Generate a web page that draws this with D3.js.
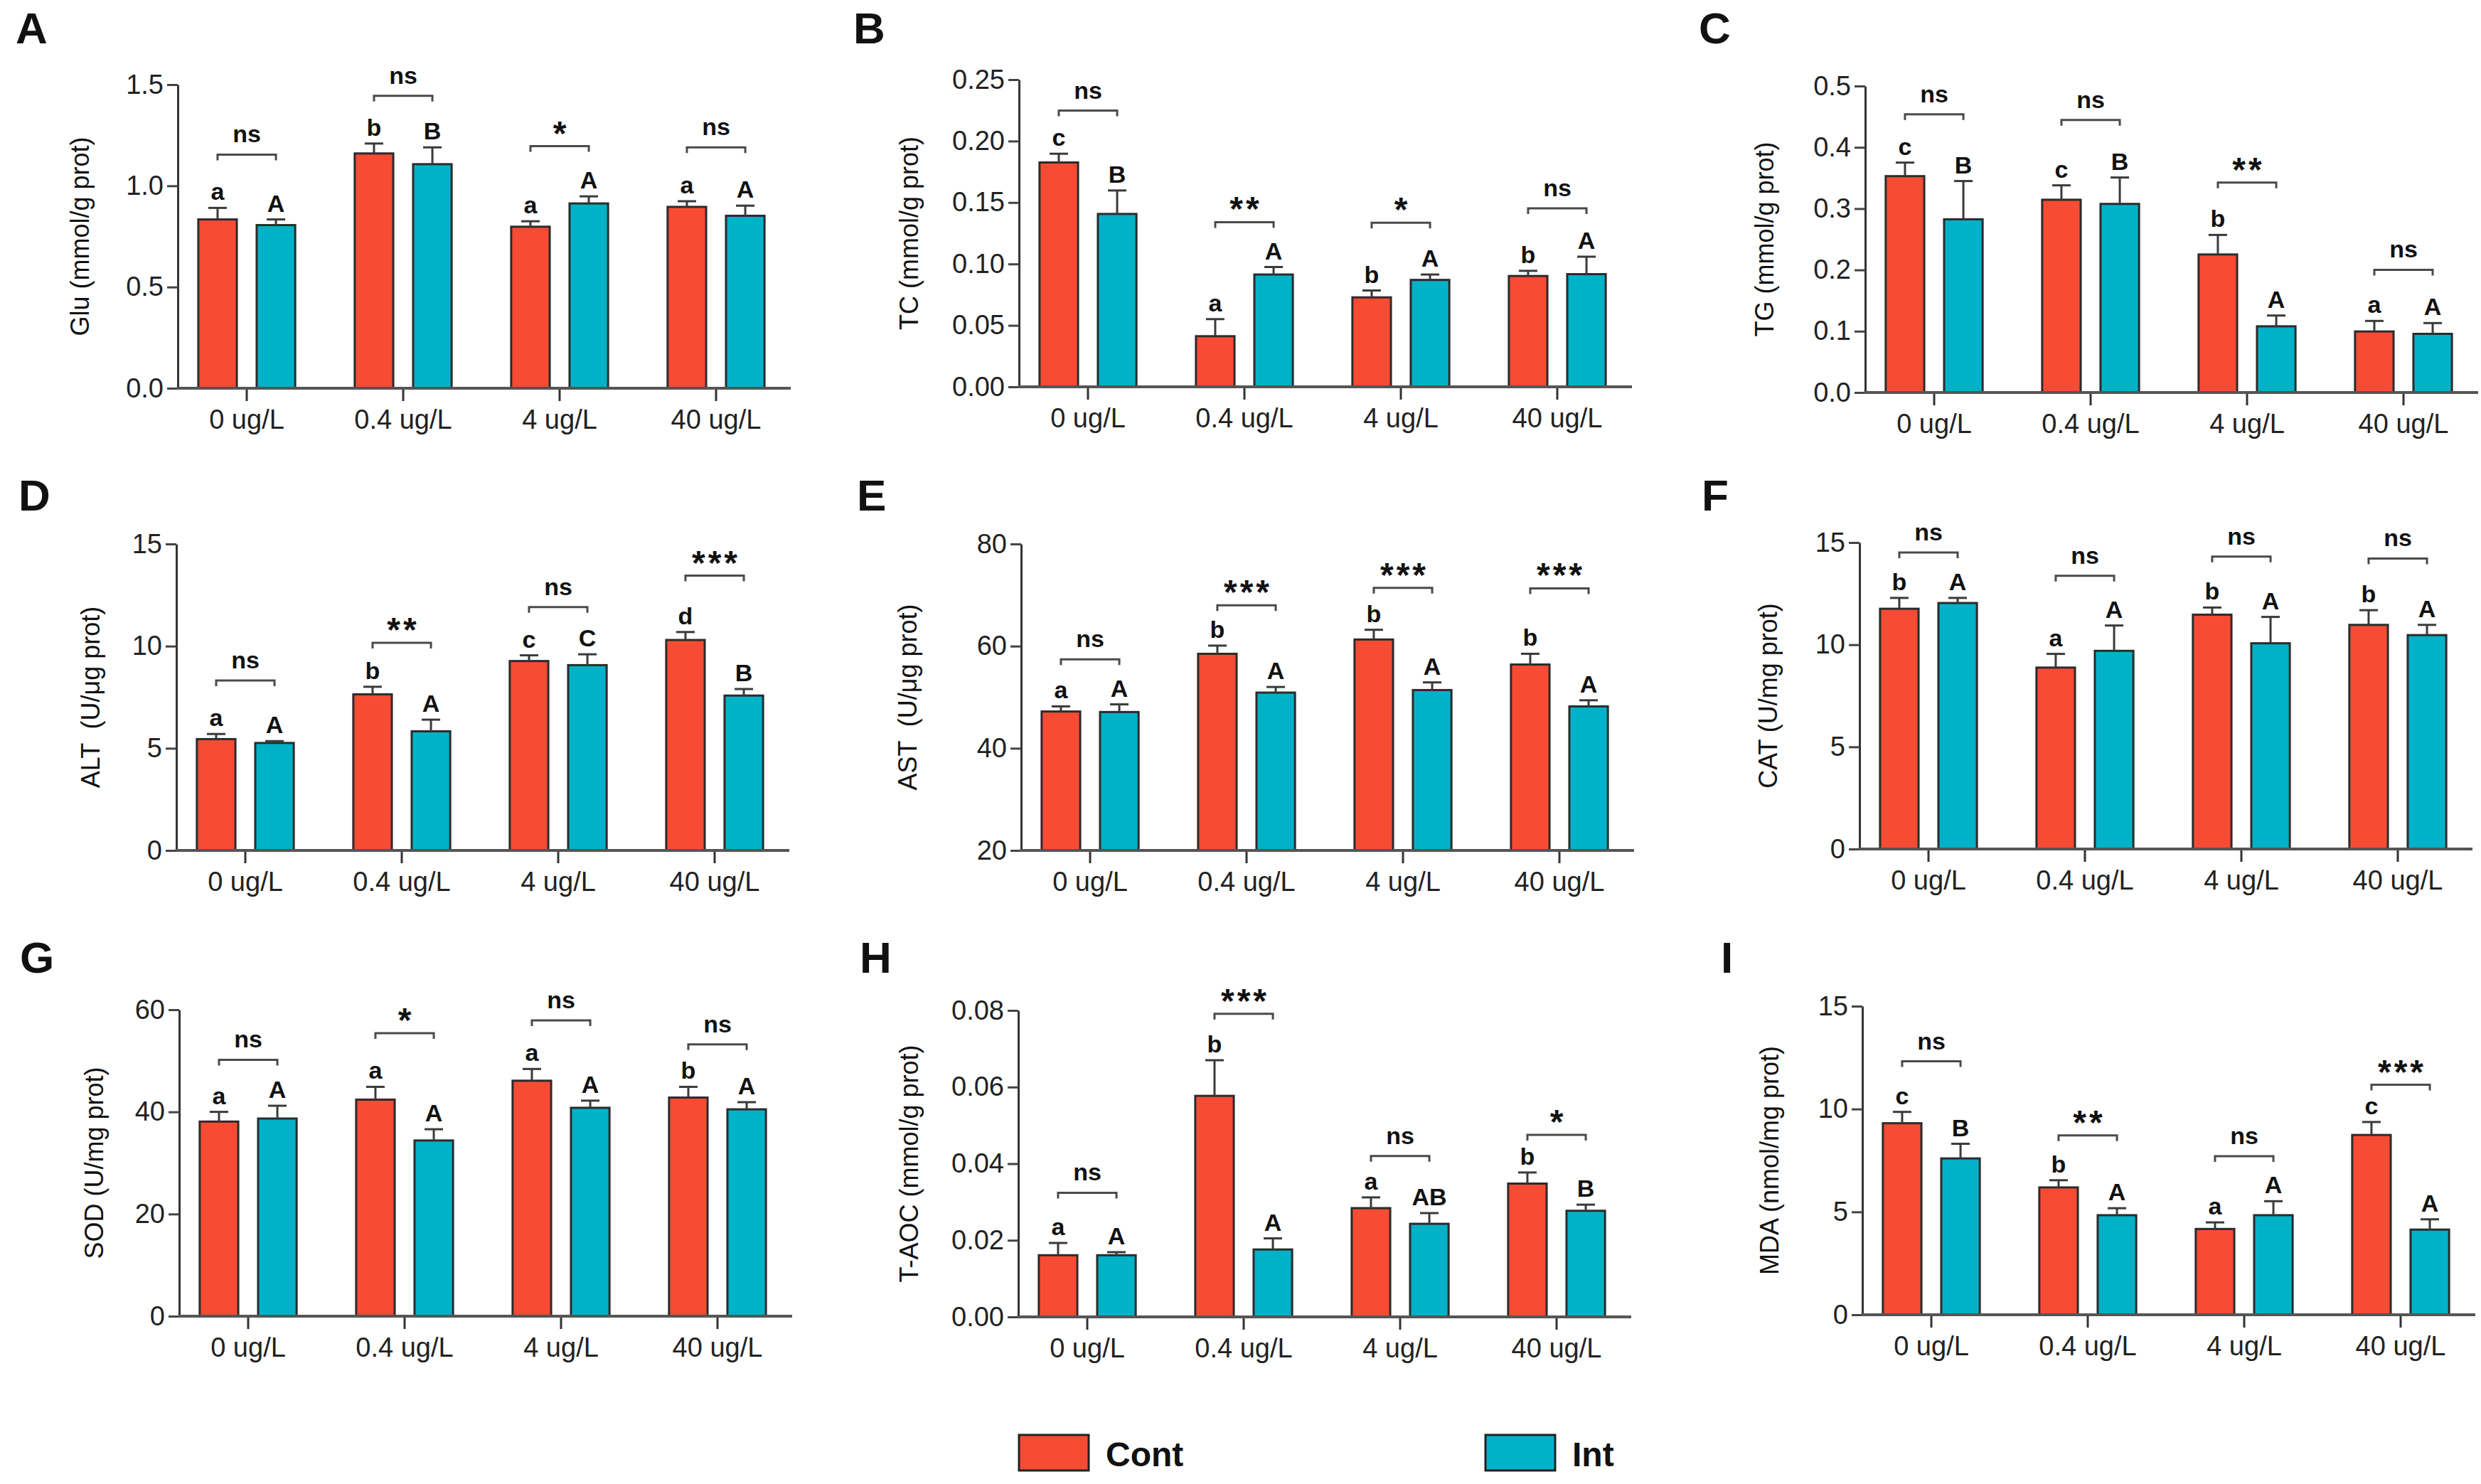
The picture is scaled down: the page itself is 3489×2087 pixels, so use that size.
<!DOCTYPE html>
<html>
<head>
<meta charset="utf-8">
<script src="https://cdn.jsdelivr.net/npm/d3@7"></script>
<style>
  body { margin: 0; background: #fff; }
  text { font-family: "Liberation Sans", Arial, Helvetica, sans-serif; }
</style>
</head>
<body>
<div id="chart"></div>
<script>
// ---- data ----
const groups = ["0 ug/L", "0.4 ug/L", "4 ug/L", "40 ug/L"];
const series = ["Cont", "Int"];

const panelIds = ["A", "B", "C", "D", "E", "F", "G", "H", "I"];
const yLabels = [
  "Glu (mmol/g prot)", "TC (mmol/g prot)", "TG (mmol/g prot)",
  "ALT  (U/\u03bcg prot)", "AST  (U/\u03bcg prot)", "CAT (U/mg prot)",
  "SOD (U/mg prot)", "T-AOC (mmol/g prot)", "MDA (nmol/mg prot)"
];
const yDomains = [[0, 1.5], [0, 0.25], [0, 0.5], [0, 15], [20, 80], [0, 15], [0, 60], [0, 0.08], [0, 15]];
const yTicks = [
  [0, 0.5, 1.0, 1.5],
  [0, 0.05, 0.10, 0.15, 0.20, 0.25],
  [0, 0.1, 0.2, 0.3, 0.4, 0.5],
  [0, 5, 10, 15],
  [20, 40, 60, 80],
  [0, 5, 10, 15],
  [0, 20, 40, 60],
  [0, 0.02, 0.04, 0.06, 0.08],
  [0, 5, 10, 15]
];
const yTickFormats = [".1f", ".2f", ".1f", "d", "d", "d", "d", ".2f", "d"];

const contMeans = [
  [0.834, 1.160, 0.798, 0.896],
  [0.1826, 0.0412, 0.0728, 0.0902],
  [0.353, 0.3145, 0.2252, 0.0996],
  [5.45, 7.64, 9.27, 10.30],
  [47.2, 58.5, 61.3, 56.4],
  [11.76, 8.88, 11.47, 10.97],
  [38.1, 42.4, 46.1, 42.8],
  [0.0161, 0.0577, 0.0284, 0.0348],
  [9.31, 6.19, 4.17, 8.74]
];
const contErr = [
  [0.057, 0.049, 0.027, 0.028],
  [0.0071, 0.0139, 0.0056, 0.0042],
  [0.0221, 0.0235, 0.0319, 0.0172],
  [0.25, 0.37, 0.28, 0.39],
  [1.0, 1.6, 1.9, 2.1],
  [0.53, 0.67, 0.35, 0.72],
  [1.9, 2.5, 2.3, 2.1],
  [0.0032, 0.0093, 0.0028, 0.0029],
  [0.55, 0.35, 0.32, 0.63]
];
const intMeans = [
  [0.806, 1.107, 0.913, 0.852],
  [0.1407, 0.0914, 0.0870, 0.0917],
  [0.2826, 0.3077, 0.108, 0.0957],
  [5.26, 5.83, 9.07, 7.58],
  [47.1, 50.9, 51.4, 48.2],
  [12.04, 9.70, 10.07, 10.47],
  [38.7, 34.4, 40.8, 40.5],
  [0.0161, 0.0176, 0.0243, 0.0277],
  [7.60, 4.84, 4.84, 4.14]
];
const intErr = [
  [0.028, 0.083, 0.035, 0.050],
  [0.0191, 0.0061, 0.0044, 0.0142],
  [0.0624, 0.0431, 0.0176, 0.0176],
  [0.09, 0.57, 0.53, 0.32],
  [1.5, 1.1, 1.5, 1.2],
  [0.25, 1.24, 1.29, 0.50],
  [2.5, 2.2, 1.4, 1.4],
  [0.0008, 0.0029, 0.0028, 0.0016],
  [0.71, 0.34, 0.68, 0.50]
];
const contLetters = [
  ["a", "b", "a", "a"], ["c", "a", "b", "b"], ["c", "c", "b", "a"],
  ["a", "b", "c", "d"], ["a", "b", "b", "b"], ["b", "a", "b", "b"],
  ["a", "a", "a", "b"], ["a", "b", "a", "b"], ["c", "b", "a", "c"]
];
const intLetters = [
  ["A", "B", "A", "A"], ["B", "A", "A", "A"], ["B", "B", "A", "A"],
  ["A", "A", "C", "B"], ["A", "A", "A", "A"], ["A", "A", "A", "A"],
  ["A", "A", "A", "A"], ["A", "A", "AB", "B"], ["B", "A", "A", "A"]
];
const sigLabels = [
  ["ns", "ns", "*", "ns"], ["ns", "**", "*", "ns"], ["ns", "ns", "**", "ns"],
  ["ns", "**", "ns", "***"], ["ns", "***", "***", "***"], ["ns", "ns", "ns", "ns"],
  ["ns", "*", "ns", "ns"], ["ns", "***", "ns", "*"], ["ns", "**", "ns", "***"]
];
// bracket heights in data units
const bracketLevels = [
  [1.154, 1.445, 1.196, 1.190],
  [0.2248, 0.134, 0.1336, 0.1453],
  [0.454, 0.4446, 0.3425, 0.2002],
  [8.32, 10.16, 11.91, 13.45],
  [57.4, 68.0, 71.4, 71.3],
  [14.51, 13.37, 14.31, 14.22],
  [50.2, 55.4, 57.9, 53.2],
  [0.0324, 0.0791, 0.0420, 0.0475],
  [12.32, 8.72, 7.71, 11.18]
];

// ---- layout ----
const colors = { Cont: "#F84B34", Int: "#00B2C8" };
const panelLayout = [
  { axisX: 250,  baseY: 546,  topY: 119,  letterX: 22,   letterY: 61,   labelX: 112 },
  { axisX: 1433, baseY: 544,  topY: 112,  letterX: 1200, letterY: 61,   labelX: 1278 },
  { axisX: 2623, baseY: 552,  topY: 121,  letterX: 2389, letterY: 61,   labelX: 2481 },
  { axisX: 248,  baseY: 1196, topY: 765,  letterX: 26,   letterY: 718,  labelX: 127 },
  { axisX: 1436, baseY: 1196, topY: 765,  letterX: 1205, letterY: 718,  labelX: 1276 },
  { axisX: 2615, baseY: 1194, topY: 763,  letterX: 2393, letterY: 718,  labelX: 2486 },
  { axisX: 252,  baseY: 1851, topY: 1420, letterX: 28,   letterY: 1368, labelX: 132 },
  { axisX: 1432, baseY: 1852, topY: 1421, letterX: 1209, letterY: 1368, labelX: 1278 },
  { axisX: 2619, baseY: 1849, topY: 1415, letterX: 2420, letterY: 1368, labelX: 2488 }
];
const axisLen = 862;

const svg = d3.select("#chart")
  .append("svg")
  .attr("width", 3489)
  .attr("height", 2087)
  .style("background", "#fff");

panelIds.forEach((id, i) => {
  const L = panelLayout[i];
  const g = svg.append("g");

  const y = d3.scaleLinear().domain(yDomains[i]).range([L.baseY, L.topY]);
  const x0 = d3.scaleBand().domain(groups).range([L.axisX - 13, L.axisX + 867]);
  const x1 = d3.scaleBand().domain(series).range([0, x0.bandwidth()])
    .paddingInner(0.34).paddingOuter(0.51);
  const cx = (grp, s) => x0(grp) + x1(s) + x1.bandwidth() / 2;

  const rows = [];
  groups.forEach((grp, j) => {
    rows.push({ grp, s: "Cont", mean: contMeans[i][j], err: contErr[i][j], letter: contLetters[i][j] });
    rows.push({ grp, s: "Int", mean: intMeans[i][j], err: intErr[i][j], letter: intLetters[i][j] });
  });

  // bars
  g.selectAll("rect.bar")
    .data(rows)
    .join("rect")
    .attr("class", "bar")
    .attr("x", d => x0(d.grp) + x1(d.s))
    .attr("width", x1.bandwidth())
    .attr("y", d => y(d.mean))
    .attr("height", d => y(yDomains[i][0]) - y(d.mean))
    .attr("fill", d => colors[d.s])
    .attr("stroke", "#2b2b2b")
    .attr("stroke-width", 3);

  // error bars (upper only)
  const eb = g.selectAll("g.err").data(rows).join("g").attr("class", "err")
    .attr("stroke", "#3a3a3a").attr("stroke-width", 3);
  eb.append("line")
    .attr("x1", d => cx(d.grp, d.s)).attr("x2", d => cx(d.grp, d.s))
    .attr("y1", d => y(d.mean)).attr("y2", d => y(d.mean + d.err));
  eb.append("line")
    .attr("x1", d => cx(d.grp, d.s) - 13).attr("x2", d => cx(d.grp, d.s) + 13)
    .attr("y1", d => y(d.mean + d.err)).attr("y2", d => y(d.mean + d.err));

  // group letters
  g.selectAll("text.letter")
    .data(rows)
    .join("text")
    .attr("class", "letter")
    .attr("x", d => cx(d.grp, d.s))
    .attr("y", d => y(d.mean + d.err) - 11)
    .attr("text-anchor", "middle")
    .attr("font-size", 34)
    .attr("font-weight", "bold")
    .attr("fill", "#111")
    .text(d => d.letter);

  // significance brackets
  groups.forEach((grp, j) => {
    const xa = cx(grp, "Cont"), xb = cx(grp, "Int");
    const yb = y(bracketLevels[i][j]);
    g.append("path")
      .attr("d", `M${xa},${yb + 8}V${yb}H${xb}V${yb + 8}`)
      .attr("fill", "none")
      .attr("stroke", "#4a4a4a")
      .attr("stroke-width", 3);
    const lab = sigLabels[i][j];
    const star = lab !== "ns";
    g.append("text")
      .attr("x", (xa + xb) / 2 + (star ? 2 : 0))
      .attr("y", star ? yb - 2 : yb - 17)
      .attr("text-anchor", "middle")
      .attr("font-size", star ? 48 : 34)
      .attr("font-weight", "bold")
      .attr("letter-spacing", star ? 4 : 0)
      .attr("fill", "#111")
      .text(lab);
  });

  // y axis
  const yAxis = g.append("g")
    .attr("transform", `translate(${L.axisX},0)`)
    .call(d3.axisLeft(y)
      .tickValues(yTicks[i])
      .tickFormat(d3.format(yTickFormats[i]))
      .tickSize(15)
      .tickSizeOuter(0)
      .tickPadding(5));
  yAxis.select(".domain").attr("stroke", "#333").attr("stroke-width", 3);
  yAxis.selectAll(".tick line").attr("stroke", "#444").attr("stroke-width", 3);
  yAxis.selectAll(".tick text")
    .attr("font-size", 38)
    .attr("font-family", "'Liberation Sans', Arial, sans-serif")
    .attr("fill", "#222");

  // x axis
  const xAxis = g.append("g")
    .attr("transform", `translate(0,${L.baseY})`)
    .call(d3.axisBottom(x0).tickSize(18).tickPadding(12));
  xAxis.select(".domain").remove();
  xAxis.selectAll(".tick line").attr("stroke", "#333").attr("stroke-width", 3);
  xAxis.selectAll(".tick text")
    .attr("font-size", 38)
    .attr("font-family", "'Liberation Sans', Arial, sans-serif")
    .attr("fill", "#222");
  g.append("line")
    .attr("x1", L.axisX - 1.5).attr("x2", L.axisX + axisLen)
    .attr("y1", L.baseY).attr("y2", L.baseY)
    .attr("stroke", "#555")
    .attr("stroke-width", 4);

  // y label
  g.append("text")
    .attr("transform", `translate(${L.labelX},${(L.baseY + L.topY) / 2}) rotate(-90)`)
    .attr("text-anchor", "middle")
    .attr("dominant-baseline", "central")
    .attr("font-size", 36)
    .attr("fill", "#111")
    .style("white-space", "pre")
    .text(yLabels[i]);

  // panel letter
  g.append("text")
    .attr("x", L.letterX)
    .attr("y", L.letterY)
    .attr("font-size", 62)
    .attr("font-weight", "bold")
    .attr("fill", "#111")
    .text(id);
});

// legend
const legendX = [1433, 2089];
const legend = svg.selectAll("g.legend")
  .data(series)
  .join("g")
  .attr("class", "legend")
  .attr("transform", (d, k) => `translate(${legendX[k]},2018)`);
legend.append("rect")
  .attr("width", 98)
  .attr("height", 50)
  .attr("fill", d => colors[d])
  .attr("stroke", "#222")
  .attr("stroke-width", 3);
legend.append("text")
  .attr("x", 122)
  .attr("y", 44)
  .attr("font-size", 48)
  .attr("font-weight", "bold")
  .attr("fill", "#111")
  .text(d => d);
</script>
</body>
</html>
